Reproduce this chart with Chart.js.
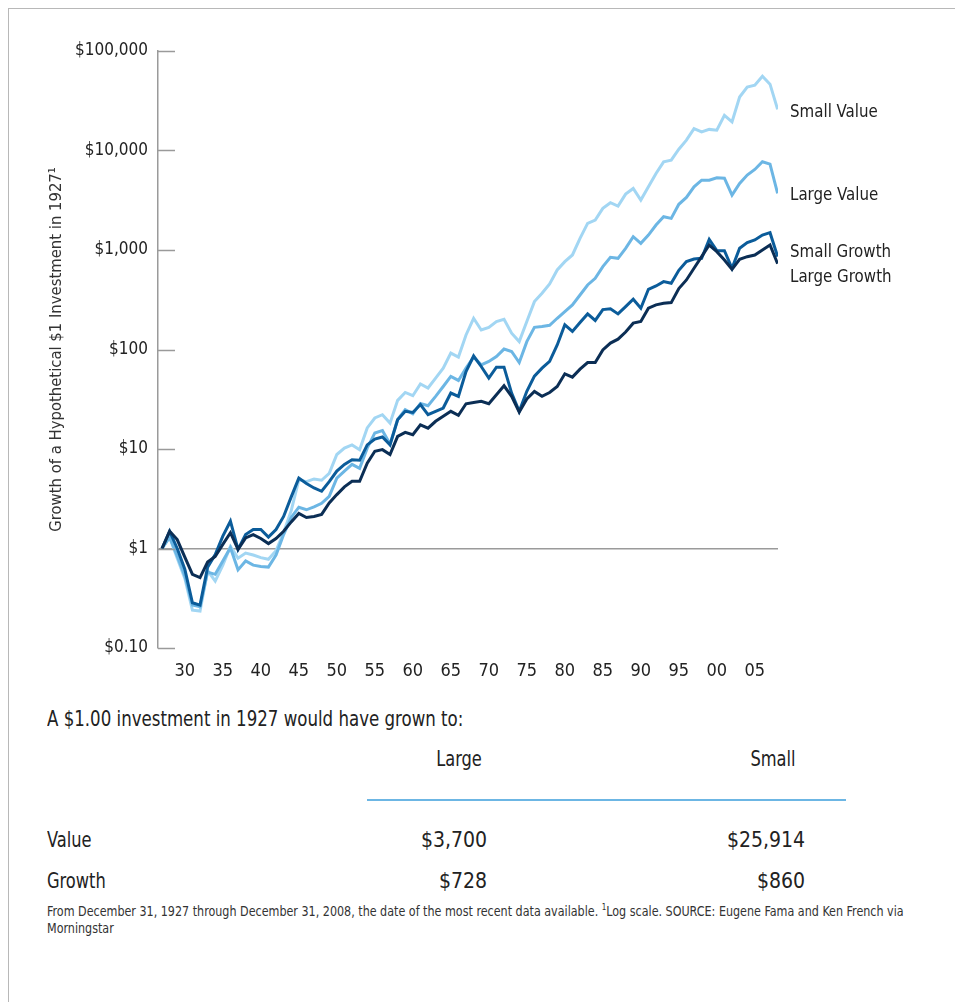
<!DOCTYPE html>
<html>
<head>
<meta charset="utf-8">
<script src="https://cdn.jsdelivr.net/npm/chart.js@4.4.1/dist/chart.umd.min.js"></script>
<style>
  html, body { margin: 0; padding: 0; background: #fff; }
  body { width: 955px; height: 1002px; position: relative; overflow: hidden;
         font-family: "Liberation Sans Narrow", "Arial Narrow", "DejaVu Sans Condensed", sans-serif; color: #222; }
  .frame { position: absolute; left: 8px; top: 8px; right: -2px; bottom: -2px;
           border-left: 1px solid #b8b8b8; border-top: 1px solid #b8b8b8; }
  #chartBox { position: absolute; left: 0; top: 0; width: 955px; height: 700px; }
  .t { position: absolute; white-space: nowrap; font-size: 21px; }
  .sq { transform: scaleX(0.86); transform-origin: left center; }
  .sqc { transform: translateX(-50%) scaleX(0.86); transform-origin: center center; }
  .intro { left: 47px; top: 707px; transform: scaleX(0.88); transform-origin: left center; }
  .head { top: 747px; }
  .rule { position: absolute; left: 367px; top: 799px; width: 479px; height: 2px; background: #6cb6e4; }
  .note { position: absolute; left: 47px; top: 899px; width: 990px; font-size: 14px; line-height: 17px; color: #333;
          transform: scaleX(0.886); transform-origin: left top; }
</style>
</head>
<body>
<div class="frame"></div>
<div id="chartBox"><canvas id="growthChart"></canvas></div>

<div class="t intro">A $1.00 investment in 1927 would have grown to:</div>
<div class="t head sqc" style="left:459px">Large</div>
<div class="t head sqc" style="left:773px">Small</div>
<div class="rule"></div>
<div class="t sq" style="left:47px; top:828px">Value</div>
<div class="t" style="right:468px; top:828px">$3,700</div>
<div class="t" style="right:150px; top:828px">$25,914</div>
<div class="t sq" style="left:47px; top:869px">Growth</div>
<div class="t" style="right:468px; top:869px">$728</div>
<div class="t" style="right:150px; top:869px">$860</div>
<div class="note">From December 31, 1927 through December 31, 2008, the date of the most recent data available. <sup style="font-size:9px">1</sup>Log scale. SOURCE: Eugene Fama and Ken French via Morningstar</div>

<script>
// years 1927..2008, value of $1 invested at end of 1927
const years = [];
for (let y = 1927; y <= 2008; y++) years.push(y);

const smallValue = [
    1, 1.3, 0.8, 0.5, 0.24, 0.235, 0.6, 0.47, 0.68, 1.05,
    0.8, 0.9, 0.86, 0.81, 0.78, 0.95, 1.45, 2.4, 4.9, 4.7,
    5.0, 4.85, 5.7, 8.8, 10.2, 11.0, 9.85, 16.3, 20.5, 22.1,
    18.2, 30.8, 37, 34.3, 45, 41, 51.5, 65, 92, 84,
    140, 206, 157, 167, 191, 201, 146, 120, 191, 303,
    367, 455, 630, 763, 891, 1309, 1852, 2000, 2618, 2985,
    2763, 3644, 4155, 3176, 4317, 5875, 7690, 8000, 10300, 12700,
    16600, 15400, 16300, 16000, 22600, 19400, 34500, 43500, 45300, 55700,
    46400, 25914
];
const largeValue = [
    1, 1.3, 0.84, 0.53, 0.27, 0.26, 0.58, 0.55, 0.75, 1.02,
    0.61, 0.75, 0.68, 0.66, 0.65, 0.86, 1.38, 2.05, 2.6, 2.45,
    2.62, 2.85, 3.35, 5.1, 6.0, 7.0, 6.4, 10.2, 14.5, 15.3,
    11.2, 19.8, 24.8, 22.6, 28.7, 27.2, 33.8, 42.5, 53.6, 48.9,
    65, 84, 70, 75.8, 85, 101, 95.5, 74, 120, 167,
    170, 175, 206, 240, 281, 353, 445, 520, 681, 844,
    825, 1039, 1361, 1167, 1413, 1782, 2160, 2078, 2880, 3375,
    4315, 5035, 5035, 5320, 5270, 3565, 4670, 5660, 6450, 7700,
    7290, 3700
];
const smallGrowth = [
    1, 1.49, 1.0, 0.62, 0.285, 0.27, 0.65, 0.87, 1.33, 1.88,
    0.98, 1.38, 1.55, 1.55, 1.3, 1.55, 2.1, 3.3, 5.1, 4.5,
    4.06, 3.76, 4.7, 6.0, 7.0, 7.8, 7.7, 11.0, 12.6, 13.2,
    11.0, 19.7, 23.9, 23.3, 28, 22.1, 23.9, 25.8, 36.5, 33.8,
    60, 86, 67.5, 51.5, 66.5, 66.5, 36.5, 23.9, 38, 54,
    65, 76, 111, 177, 152, 187, 228, 196, 252, 257,
    228, 270, 320, 260, 403, 435, 481, 463, 625, 764,
    812, 825, 1280, 985, 985, 655, 1040, 1185, 1260, 1415,
    1493, 860
];
const largeGrowth = [
    1, 1.49, 1.23, 0.82, 0.55, 0.51, 0.73, 0.83, 1.1, 1.44,
    0.98, 1.28, 1.38, 1.26, 1.12, 1.26, 1.49, 1.85, 2.25, 2.05,
    2.1, 2.2, 2.87, 3.48, 4.16, 4.74, 4.74, 7.2, 9.5, 9.85,
    8.8, 13.4, 14.7, 13.9, 17.5, 16.2, 19, 21.3, 23.9, 21.8,
    28.5, 29.4, 30.1, 28.5, 35.1, 43.2, 33.8, 23.5, 31.8, 37.9,
    33.8, 37, 42.5, 57, 52.8, 63.5, 74, 74, 99, 116,
    127, 150, 184, 191, 260, 281, 292, 296, 410, 500,
    655, 857, 1122, 962, 794, 640, 806, 857, 891, 1000,
    1122, 728
];

const xTickYears = [1930, 1935, 1940, 1945, 1950, 1955, 1960, 1965, 1970, 1975, 1980, 1985, 1990, 1995, 2000, 2005];
const xTickLabels = ['30', '35', '40', '45', '50', '55', '60', '65', '70', '75', '80', '85', '90', '95', '00', '05'];
const yTickValues = [0.1, 1, 10, 100, 1000, 10000, 100000];
const yTickLabels = ['$0.10', '$1', '$10', '$100', '$1,000', '$10,000', '$100,000'];

const FONT = '"Liberation Sans Narrow", "Arial Narrow", "DejaVu Sans Condensed", sans-serif';
const AXIS = '#9a9a9a';

const series = [
    { name: 'Large Growth', values: largeGrowth, color: '#0b2e55', dy: 14 },
    { name: 'Small Growth', values: smallGrowth, color: '#0b5c9a', dy: -4 },
    { name: 'Large Value', values: largeValue, color: '#6cb6e4', dy: 2 },
    { name: 'Small Value', values: smallValue, color: '#a2d6f3', dy: 3 }
];

// short tick marks pointing into the plot
const innerTicks = {
    id: 'innerTicks',
    afterDraw(chart) {
        const y = chart.scales.y, c = chart.ctx, left = chart.chartArea.left;
        c.save();
        c.strokeStyle = AXIS;
        c.lineWidth = 1.5;
        y.ticks.forEach(t => {
            const py = Math.round(y.getPixelForValue(t.value)) + 0.5;
            c.beginPath();
            c.moveTo(left, py);
            c.lineTo(left + 17, py);
            c.stroke();
        });
        c.restore();
    }
};

// series names next to the line ends
const endLabels = {
    id: 'endLabels',
    afterDatasetsDraw(chart) {
        const c = chart.ctx;
        chart.data.datasets.forEach((ds, i) => {
            const pts = chart.getDatasetMeta(i).data;
            const last = pts[pts.length - 1];
            c.save();
            c.font = '18px ' + FONT;
            c.fillStyle = '#222';
            c.textBaseline = 'middle';
            c.translate(chart.chartArea.right + 12, last.y + series[i].dy);
            c.scale(0.93, 1);
            c.fillText(ds.label, 0, 0);
            c.restore();
        });
    }
};

new Chart(document.getElementById('growthChart'), {
    type: 'line',
    data: {
        datasets: series.map(s => ({
            label: s.name,
            data: years.map((yr, i) => ({ x: yr, y: s.values[i] })),
            borderColor: s.color,
            borderWidth: 3,
            pointRadius: 0,
            tension: 0,
            fill: false
        }))
    },
    options: {
        responsive: true,
        maintainAspectRatio: false,
        animation: false,
        events: [],
        layout: { padding: { left: 0, top: 51, right: 177, bottom: 0 } },
        plugins: { legend: { display: false }, tooltip: { enabled: false } },
        scales: {
            x: {
                type: 'linear',
                min: 1926.47,
                max: 2008.05,
                afterBuildTicks: s => { s.ticks = xTickYears.map(v => ({ value: v })); },
                afterFit: s => { s.height = 52; },
                grid: { display: false, drawTicks: false },
                border: { display: false },
                ticks: {
                    callback: (v, i) => xTickLabels[i],
                    color: '#222',
                    padding: 13,
                    maxRotation: 0,
                    autoSkip: false,
                    font: { family: FONT, size: 18 }
                }
            },
            y: {
                type: 'logarithmic',
                min: 0.1,
                max: 100000,
                afterBuildTicks: s => { s.ticks = yTickValues.map(v => ({ value: v })); },
                afterFit: s => { s.width = 158; },
                grid: {
                    drawTicks: false,
                    color: ctx => (ctx.tick && ctx.tick.value === 1) ? AXIS : 'rgba(0,0,0,0)',
                    lineWidth: 1.5
                },
                border: { display: true, color: AXIS, width: 1.5 },
                ticks: {
                    callback: (v, i) => yTickLabels[i],
                    color: '#222',
                    padding: 10,
                    autoSkip: false,
                    font: { family: FONT, size: 17 }
                },
                title: {
                    display: true,
                    text: 'Growth of a Hypothetical $1 Investment in 1927\u00b9',
                    color: '#333',
                    padding: { top: 47, bottom: 0 },
                    font: { family: FONT, size: 16.5 }
                }
            }
        }
    },
    plugins: [innerTicks, endLabels]
});
</script>
</body>
</html>
